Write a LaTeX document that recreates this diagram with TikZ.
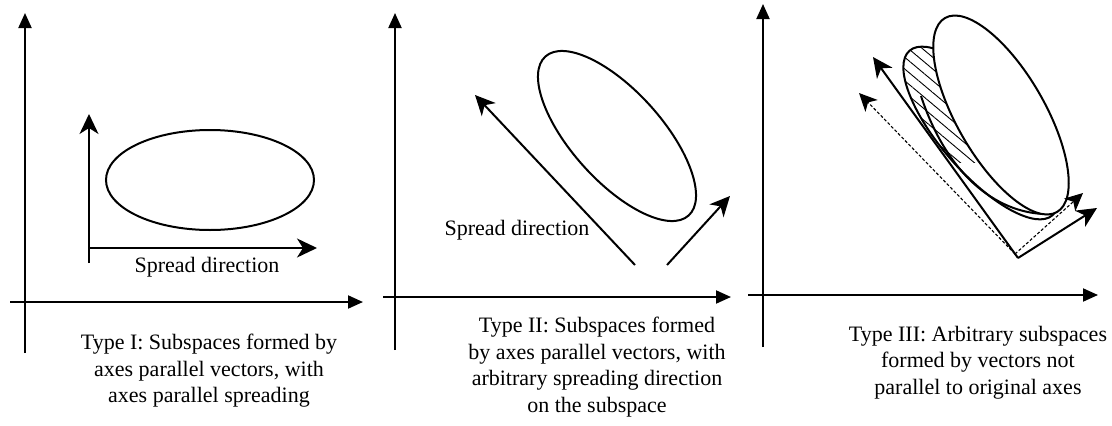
\documentclass[tikz,border=0pt]{standalone}
\usepackage{fontspec}
\setmainfont{Liberation Serif}
\usetikzlibrary{arrows.meta, patterns.meta}

\tikzset{
  axis/.style={line width=2pt, -{Triangle[length=15pt, width=13pt]}},
  vec/.style={line width=2pt, -{Stealth[length=20pt, width=19pt, inset=6pt]}},
  dvec/.style={line width=1.1pt, densely dashed, -{Stealth[length=18pt, width=17pt, inset=5pt]}},
  cloud/.style={line width=2pt},
  hatch/.style={pattern={Lines[angle=-40, distance=9pt, line width=0.9pt]}},
  caption/.style={align=center, inner sep=0pt, anchor=north, font=\fontsize{22}{26.5}\selectfont},
  tag/.style={inner sep=0pt, font=\fontsize{22}{26}\selectfont}
}

\begin{document}
\begin{tikzpicture}[x=1pt, y=-1pt]
  \useasboundingbox (0,0) rectangle (1112,426);

  % Type I
  \coordinate (yI0) at (25,353);   \coordinate (yI1) at (25,13);
  \coordinate (xI0) at (10,302);   \coordinate (xI1) at (363,302);
  \draw[axis] (yI0) -- (yI1);
  \draw[axis] (xI0) -- (xI1);
  \draw[cloud] (210,180) ellipse [x radius=104, y radius=50];
  \coordinate (oI) at (89,248);
  \coordinate (upI) at (89,114);
  \coordinate (rtI) at (317,248);
  \draw[vec] ([yshift=-15pt]oI) -- (upI);
  \draw[vec] (oI) -- (rtI);
  \node[tag] (sdI) at (207,267) {Spread direction};
  \node[caption] (capI) at (209,334) {Type I: Subspaces formed by\\axes parallel vectors, with\\axes parallel spreading};

  % Type II
  \coordinate (yII0) at (395,350); \coordinate (yII1) at (395,13);
  \coordinate (xII0) at (383,297); \coordinate (xII1) at (731,297);
  \draw[axis] (yII0) -- (yII1);
  \draw[axis] (xII0) -- (xII1);
  \draw[cloud, rotate around={-48:(617,136)}] (617,136) ellipse [x radius=107, y radius=45];
  \coordinate (aII) at (635,265);  \coordinate (aIIt) at (475,95);
  \coordinate (bII) at (667,265);  \coordinate (bIIt) at (730,196);
  \draw[vec] (aII) -- (aIIt);
  \draw[vec] (bII) -- (bIIt);
  \node[tag] (sdII) at (517,230) {Spread direction};
  \node[caption] (capII) at (597,317) {Type II: Subspaces formed\\by axes parallel vectors, with\\arbitrary spreading direction\\on the subspace};

  % Type III
  \coordinate (yIII0) at (763,347); \coordinate (yIII1) at (763,4);
  \coordinate (xIII0) at (748,295); \coordinate (xIII1) at (1098,295);
  \draw[axis] (yIII0) -- (yIII1);
  \draw[axis] (xIII0) -- (xIII1);
  \begin{scope}
    \clip (840,0) rectangle (1112,162);
    \fill[hatch, rotate around={-49:(981,133)}] (981,133) ellipse [x radius=109, y radius=40];
  \end{scope}
  \draw[cloud, rotate around={-49:(981,133)}] (981,133) ellipse [x radius=109, y radius=40];
  \draw[cloud] (921,96) .. controls (948,178) and (1000,216) .. (1052,214);
  \draw[cloud, fill=white, rotate around={-60:(1001,115)}] (1001,115) ellipse [x radius=112, y radius=44];
  \coordinate (oIII) at (1018,258);
  \coordinate (aIII) at (873,57);   \coordinate (bIII) at (1097,208);
  \coordinate (dIII) at (1015,254);
  \coordinate (cIII) at (859,93);   \coordinate (eIII) at (1083,193);
  \draw[dvec] (dIII) -- (cIII);
  \draw[dvec] (dIII) -- (eIII);
  \draw[vec] (oIII) -- (aIII);
  \draw[vec] (oIII) -- (bIII);
  \node[caption] (capIII) at (978,326) {Type III: Arbitrary subspaces\\formed by vectors not\\parallel to original axes};
\end{tikzpicture}
\end{document}
